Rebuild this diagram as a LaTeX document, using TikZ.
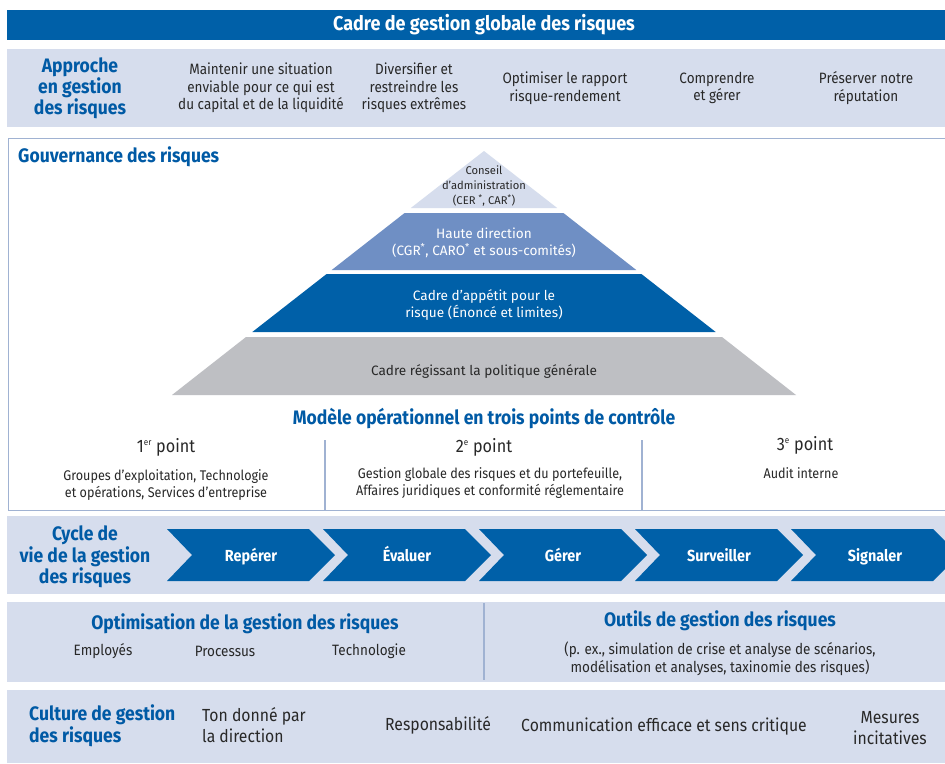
\documentclass[tikz,border=0pt]{standalone}
\usepackage{fontspec}
\setmainfont{Fira Sans}[FakeStretch=0.9]
\newfontfamily\pyrfont{Fira Sans}
\definecolor{rbcblue}{RGB}{0,96,168}
\definecolor{titleblue}{RGB}{0,90,165}
\definecolor{lav}{RGB}{214,221,237}
\definecolor{midblue}{RGB}{111,143,196}
\definecolor{pyrgray}{RGB}{190,191,195}
\definecolor{linegray}{RGB}{160,178,210}
\definecolor{txt}{RGB}{40,40,40}
\newcommand{\astk}{\textsuperscript{*}}
\tikzset{
  ttl/.style={font=\bfseries\fontsize{19.5}{21.5}\selectfont, text=titleblue, align=center, inner sep=0pt},
  body/.style={font=\fontsize{15}{17.5}\selectfont, text=txt, align=center, inner sep=0pt},
  small/.style={font=\fontsize{14}{16.5}\selectfont, text=txt, align=center, inner sep=0pt},
  pyr/.style={font=\pyrfont\fontsize{13.6}{17.5}\selectfont, align=center, inner sep=0pt},
  chev/.style={fill=rbcblue},
  chevtxt/.style={font=\bfseries\fontsize{16}{18}\selectfont, text=white, inner sep=0pt, text height=11pt, text depth=3pt},
  cult/.style={font=\fontsize{17.5}{21}\selectfont, text=txt, inner sep=0pt},
  divline/.style={draw=linegray, line width=1.2pt},
  ptxt/.style={font=\fontsize{18}{20}\selectfont, text=txt, inner sep=0pt},
}
\begin{document}
\begin{tikzpicture}[x=1pt,y=-1pt]
\useasboundingbox (0,0) rectangle (945,763);
\fill[white] (0,0) rectangle (945,763);
% top bar
\fill[rbcblue] (7,10) rectangle (945,40);
\node[font=\bfseries\fontsize{20}{22}\selectfont, text=white, inner sep=0pt] (title) at (484,25) {Cadre de gestion globale des risques};
% approach row
\fill[lav] (7,49) rectangle (945,127);
\node[ttl, font=\bfseries\fontsize{19.5}{21}\selectfont] (appr) at (80,88) {Approche\\en gestion\\des risques};
\node[body] (a1) at (261,88) {Maintenir une situation\\enviable pour ce qui est\\du capital et de la liquidité};
\node[body] (a2) at (414,88) {Diversifier et\\restreindre les\\risques extrêmes};
\node[body] (a3) at (565,88) {Optimiser le rapport\\risque-rendement};
\node[body] (a4) at (717,88) {Comprendre\\et gérer};
\node[body] (a5) at (866,88) {Préserver notre\\réputation};
% governance box
\draw[linegray, line width=1pt] (945,138) -- (8,138) -- (8,510) -- (945,510);
\node[ttl, anchor=west] (gov) at (18,157) {Gouvernance des risques};
% pyramid
\fill[lav] (484,151) -- (410.8,208) -- (557.2,208) -- cycle;
\fill[midblue] (484-79.4,213) -- (484+79.4,213) -- (484+152.3,270) -- (484-152.3,270) -- cycle;
\fill[rbcblue] (484-157.4,274) -- (484+157.4,274) -- (484+231.7,332) -- (484-231.7,332) -- cycle;
\fill[pyrgray] (484-238,337) -- (484+238,337) -- (484+312,395) -- (484-312,395) -- cycle;
\node[pyr, font=\pyrfont\fontsize{11.2}{15}\selectfont, text=txt] (p1) at (484,186) {Conseil\\d’administration\\(CER \astk, CAR\astk)};
\node[pyr, text=white] (p2) at (484,243) {Haute direction\\(CGR\astk, CARO\astk{} et sous-comités)};
\node[pyr, text=white] (p3) at (484,305) {Cadre d’appétit pour le\\risque (Énoncé et limites)};
\node[pyr, text=txt] (p4) at (484,371) {Cadre régissant la politique générale};
% three lines of defence
\node[ttl] (model) at (484,419) {Modèle opérationnel en trois points de contrôle};
\draw[divline] (325,440) -- (325,510);
\draw[divline] (642,440) -- (642,510);
\node[ptxt] (pt1) at (166,447) {1\textsuperscript{\fontsize{9}{9}\selectfont er} point};
\node[ptxt] (pt2) at (484,447) {2\textsuperscript{\fontsize{9}{9}\selectfont e} point};
\node[ptxt] (pt3) at (805,445) {3\textsuperscript{\fontsize{9}{9}\selectfont e} point};
\node[small] (d1) at (166,485) {Groupes d’exploitation, Technologie\\et opérations, Services d’entreprise};
\node[small] (d2) at (490,483) {Gestion globale des risques et du portefeuille,\\Affaires juridiques et conformité réglementaire};
\node[small] (d3) at (801,473) {Audit interne};
% cycle row
\fill[lav] (7,516) rectangle (945,594);
\node[ttl, font=\bfseries\fontsize{19.5}{21.5}\selectfont] (cyc) at (85,557) {Cycle de\\vie de la gestion\\des risques};
\begin{scope}
\clip (7,516) rectangle (945,594);
\foreach \x/\t/\n in {167/Repérer/c1, 323/Évaluer/c2, 479/Gérer/c3, 635/Surveiller/c4, 791/Signaler/c5}{
  \fill[chev] (\x,529) -- (\x+142,529) -- (\x+168,555) -- (\x+142,581) -- (\x,581) -- (\x+25,555) -- cycle;
  \node[chevtxt] (\n) at (\x+84,557) {\t};
}
\end{scope}
% optimisation row
\fill[lav] (7,602) rectangle (945,682);
\draw[divline] (484,603) -- (484,680);
\node[ttl] (opt) at (245,624) {Optimisation de la gestion des risques};
\node[body] (o1) at (103,651) {Employés};
\node[body] (o2) at (225,651) {Processus};
\node[body] (o3) at (369,651) {Technologie};
\node[ttl] (out) at (720,621) {Outils de gestion des risques};
\node[body] (out1) at (720,659) {(p. ex., simulation de crise et analyse de scénarios,\\modélisation et analyses, taxinomie des risques)};
% culture row
\fill[lav] (7,690) rectangle (945,763);
\node[ttl, align=left, anchor=west, font=\bfseries\fontsize{19.5}{22}\selectfont] (cul) at (29,726) {Culture de gestion\\des risques};
\node[cult, align=left, anchor=west] (c1t) at (202,725) {Ton donné par\\la direction};
\node[cult] (c2t) at (438,725) {Responsabilité};
\node[cult] (c3t) at (664,727) {Communication efficace et sens critique};
\node[cult, align=center] (c4t) at (890,728) {Mesures\\incitatives};
\end{tikzpicture}
\end{document}
